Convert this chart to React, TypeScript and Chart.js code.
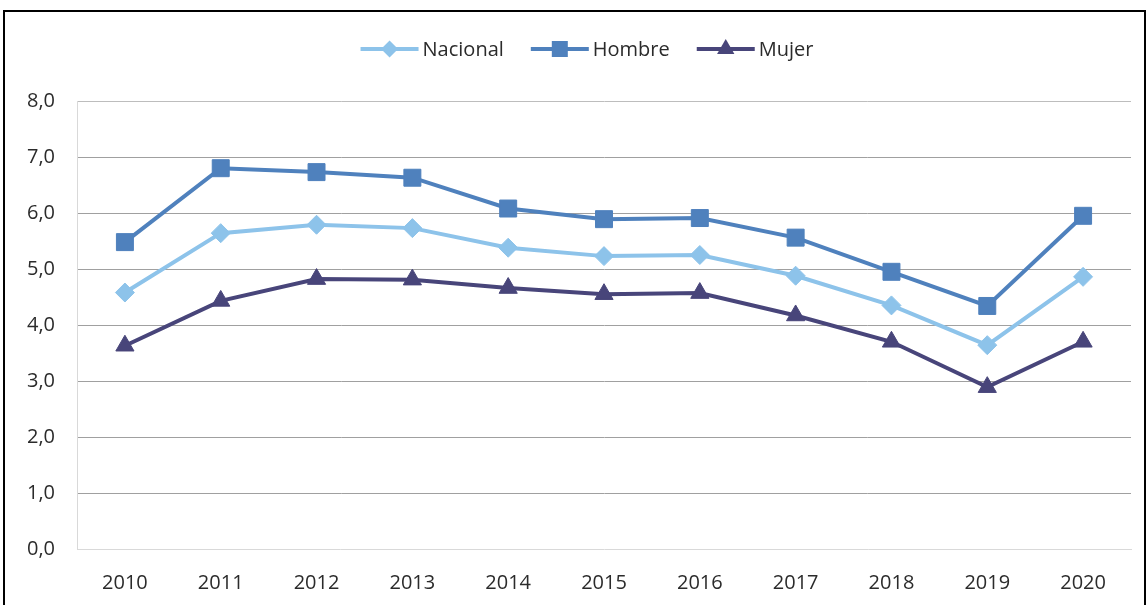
import React, { useEffect, useRef } from 'react';
import { Chart, registerables } from 'chart.js';

Chart.register(...registerables);

const years = ['2010', '2011', '2012', '2013', '2014', '2015', '2016', '2017', '2018', '2019', '2020'];
const nacional = [4.58, 5.64, 5.79, 5.73, 5.38, 5.23, 5.25, 4.88, 4.35, 3.64, 4.86];
const hombre = [5.48, 6.8, 6.73, 6.63, 6.08, 5.89, 5.91, 5.56, 4.95, 4.34, 5.95];
const mujer = [3.63, 4.43, 4.82, 4.81, 4.66, 4.55, 4.57, 4.17, 3.7, 2.89, 3.7];
const yTickLabels = ['0,0', '1,0', '2,0', '3,0', '4,0', '5,0', '6,0', '7,0', '8,0'];
const seriesNames = ['Nacional', 'Hombre', 'Mujer'];
const seriesColors = ['#8DC3EA', '#4F81BD', '#48457A'];

const FONT = '"Open Sans", "DejaVu Sans", sans-serif';
const TEXT = '#2b2b2b';

function drawMarker(ctx: CanvasRenderingContext2D, style: string, x: number, y: number, color: string) {
  ctx.fillStyle = color;
  ctx.beginPath();
  if (style === 'rectRot') {
    const r = 8.5;
    ctx.moveTo(x, y - r);
    ctx.lineTo(x + r, y);
    ctx.lineTo(x, y + r);
    ctx.lineTo(x - r, y);
    ctx.closePath();
  } else if (style === 'rect') {
    const s = 8;
    ctx.rect(x - s, y - s, 2 * s, 2 * s);
  } else {
    const r = 10;
    ctx.moveTo(x, y - r);
    ctx.lineTo(x + r * 0.866, y + r / 2);
    ctx.lineTo(x - r * 0.866, y + r / 2);
    ctx.closePath();
  }
  ctx.fill();
}

const lineLegend = {
  id: 'lineLegend',
  afterDraw(chart: any) {
    const ctx: CanvasRenderingContext2D = chart.ctx;
    ctx.save();
    ctx.font = `20px ${FONT}`;
    const lineLen = 58;
    const gap = 4;
    const spacing = 27;
    const items = chart.data.datasets.map((ds: any) => ({ ds, tw: ctx.measureText(ds.label).width }));
    const total =
      items.reduce((s: number, it: any) => s + lineLen + gap + it.tw, 0) + spacing * (items.length - 1);
    let x = 587 - total / 2;
    const y = 49;
    items.forEach(({ ds, tw }: any) => {
      ctx.strokeStyle = ds.borderColor;
      ctx.lineWidth = 4;
      ctx.beginPath();
      ctx.moveTo(x, y);
      ctx.lineTo(x + lineLen, y);
      ctx.stroke();
      drawMarker(ctx, ds.pointStyle, x + lineLen / 2, y, ds.borderColor);
      ctx.fillStyle = TEXT;
      ctx.textAlign = 'left';
      ctx.textBaseline = 'alphabetic';
      ctx.fillText(ds.label, x + lineLen + gap, y + 7);
      x += lineLen + gap + tw + spacing;
    });
    ctx.restore();
  },
};

export default function App() {
  const canvasRef = useRef<HTMLCanvasElement | null>(null);

  useEffect(() => {
    if (!canvasRef.current) return;
    const styles = ['rectRot', 'rect', 'triangle'];
    const radii = [9.5, 12, 10.5];
    const series = [nacional, hombre, mujer];
    const chart = new Chart(canvasRef.current, {
      type: 'line',
      data: {
        labels: years,
        datasets: series.map((d, i) => ({
          label: seriesNames[i],
          data: d,
          borderColor: seriesColors[i],
          backgroundColor: seriesColors[i],
          pointBackgroundColor: seriesColors[i],
          pointBorderColor: seriesColors[i],
          pointBorderWidth: 1,
          borderWidth: 4,
          pointStyle: styles[i],
          pointRadius: radii[i],
          pointHoverRadius: radii[i],
          tension: 0,
          fill: false,
        })),
      },
      options: {
        responsive: false,
        animation: false,
        devicePixelRatio: 1,
        events: [],
        layout: { padding: { left: 0, right: 17, top: 101, bottom: 0 } },
        plugins: {
          legend: { display: false },
          tooltip: { enabled: false },
          title: { display: false },
        },
        scales: {
          x: {
            type: 'category',
            offset: true,
            grid: { display: false },
            border: { display: true, color: '#d9d9d9', width: 1 },
            ticks: {
              color: TEXT,
              font: { family: FONT, size: 20 },
              padding: 14,
              maxRotation: 0,
              autoSkip: false,
            },
            afterFit: (s: any) => {
              s.height = 56;
            },
          },
          y: {
            min: 0,
            max: 8,
            ticks: {
              stepSize: 1,
              color: TEXT,
              font: { family: FONT, size: 20 },
              padding: 22,
              callback: (_v: any, i: number) => yTickLabels[i],
            },
            grid: {
              drawTicks: false,
              lineWidth: 1,
              color: (c: any) =>
                c.tick && c.tick.value === 0 ? 'rgba(0,0,0,0)' : c.tick && c.tick.value === 8 ? '#bdbdbd' : '#a0a0a0',
            },
            border: { display: true, color: '#d9d9d9', width: 1 },
            afterFit: (s: any) => {
              s.width = 77;
            },
          },
        },
      },
      plugins: [lineLegend],
    });
    return () => chart.destroy();
  }, []);

  return (
    <div
      style={{
        position: 'fixed',
        left: 0,
        top: 0,
        width: 1148,
        height: 605,
        background: '#ffffff',
        overflow: 'hidden',
      }}
    >
      <div
        style={{
          position: 'absolute',
          left: 3,
          top: 10,
          width: 1143,
          height: 700,
          border: '2px solid #000',
          boxSizing: 'border-box',
        }}
      />
      <canvas
        ref={canvasRef}
        width={1148}
        height={605}
        style={{ position: 'absolute', left: 0, top: 0, width: 1148, height: 605, display: 'block' }}
      />
    </div>
  );
}
